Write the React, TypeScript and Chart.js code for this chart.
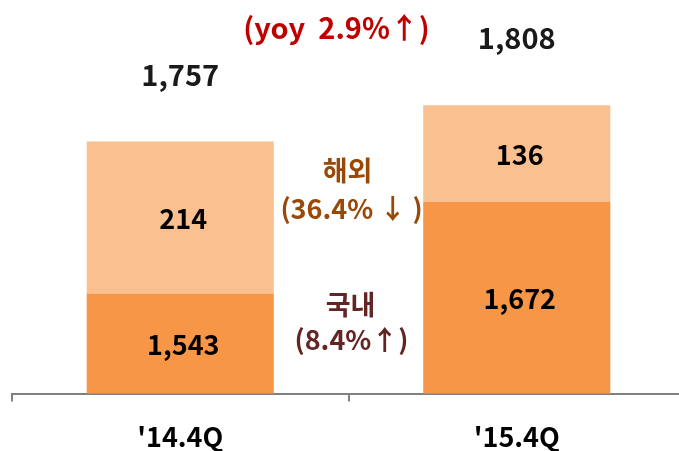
import React, { useEffect, useRef } from 'react';
import { Chart, registerables } from 'chart.js';

Chart.register(...registerables);

const categories = ["'14.4Q", "'15.4Q"];
const domestic = [1543, 1672];
const overseas = [214, 136];
const yoyText = '(yoy  2.9%↑)';
const overseasTitle = '해외';
const overseasChange = '(36.4% ↓ )';
const domesticTitle = '국내';
const domesticChange = '(8.4%↑)';

const FONT = '"Noto Sans CJK KR", "Noto Sans", sans-serif';

const labelsPlugin = {
  id: 'valueLabels',
  afterDatasetsDraw(chart: any) {
    const { ctx, chartArea, scales } = chart;
    ctx.save();
    ctx.textAlign = 'center';
    ctx.textBaseline = 'middle';
    ctx.font = `bold 27px ${FONT}`;
    ctx.fillStyle = '#000000';
    chart.data.datasets.forEach((ds: any, di: number) => {
      const meta = chart.getDatasetMeta(di);
      meta.data.forEach((el: any, i: number) => {
        const top = Math.max(el.y, chartArea.top);
        const base = Math.min(el.base, chartArea.bottom);
        ctx.fillText(Number(ds.data[i]).toLocaleString('en-US'), el.x + 3, (top + base) / 2 + 1);
      });
    });
    const topMeta = chart.getDatasetMeta(chart.data.datasets.length - 1);
    ctx.font = `bold 29px ${FONT}`;
    ctx.fillStyle = '#1a1a1a';
    topMeta.data.forEach((el: any, i: number) => {
      const total = domestic[i] + overseas[i];
      ctx.fillText(total.toLocaleString('en-US'), el.x, el.y - 67);
    });
    const midX = scales.x.getPixelForValue(0.5);
    const top = chartArea.top;
    ctx.font = `bold 29px ${FONT}`;
    ctx.fillStyle = '#C00000';
    ctx.fillText(yoyText, midX - 12, top - 12);
    ctx.font = `bold 27px ${FONT}`;
    ctx.fillStyle = '#984807';
    ctx.fillText(overseasTitle, midX - 1, top + 131);
    ctx.font = `bold 27px ${FONT}`;
    ctx.fillText(overseasChange, midX + 3, top + 169);
    ctx.font = `bold 27px ${FONT}`;
    ctx.fillStyle = '#632523';
    ctx.fillText(domesticTitle, midX + 2, top + 265);
    ctx.font = `bold 27px ${FONT}`;
    ctx.fillText(domesticChange, midX + 3, top + 300);
    ctx.restore();
  },
};

export default function App() {
  const ref = useRef<HTMLCanvasElement | null>(null);
  useEffect(() => {
    if (!ref.current) return;
    const chart = new Chart(ref.current, {
      type: 'bar',
      data: {
        labels: categories,
        datasets: [
          {
            label: domesticTitle,
            data: domestic,
            backgroundColor: '#F79646',
            borderWidth: 0,
            categoryPercentage: 1,
            barPercentage: 0.556,
          },
          {
            label: overseasTitle,
            data: overseas,
            backgroundColor: '#FAC090',
            borderWidth: 0,
            categoryPercentage: 1,
            barPercentage: 0.556,
          },
        ],
      },
      options: {
        responsive: false,
        animation: false,
        devicePixelRatio: 1,
        layout: { padding: { top: 40, left: 12, right: 0, bottom: 0 } },
        plugins: { legend: { display: false }, tooltip: { enabled: false } },
        scales: {
          x: {
            stacked: true,
            offset: true,
            grid: {
              display: true,
              offset: true,
              drawOnChartArea: false,
              drawTicks: true,
              tickLength: 8,
              color: '#808080',
              lineWidth: 2,
            },
            border: { display: true, color: '#808080', width: 2 },
            ticks: {
              color: '#000000',
              padding: 19,
              font: { family: FONT, size: 27, weight: 'bold' },
            },
          },
          y: {
            stacked: true,
            display: false,
            min: 1402,
            max: 1900,
          },
        },
      },
      plugins: [labelsPlugin],
    });
    return () => chart.destroy();
  }, []);
  return (
    <div style={{ position: 'fixed', left: 0, top: 0, width: 679, height: 451, overflow: 'hidden', background: '#fff' }}>
      <canvas ref={ref} width={685} height={472} style={{ width: 685, height: 472, display: 'block' }} />
    </div>
  );
}
